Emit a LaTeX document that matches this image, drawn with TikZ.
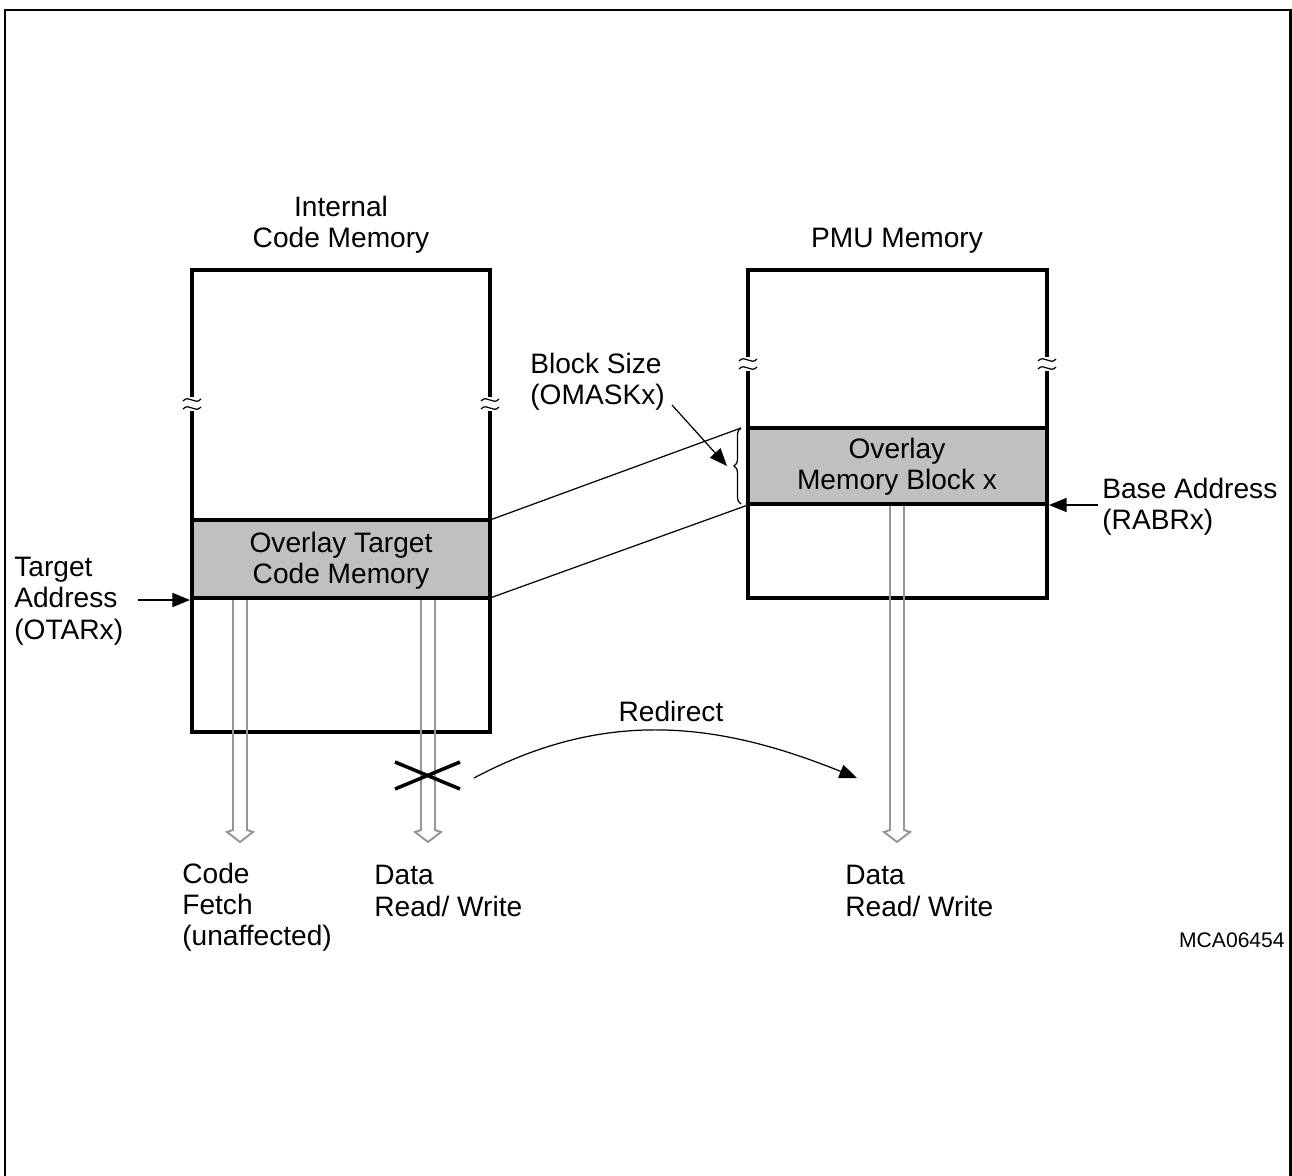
\documentclass[tikz,border=0pt]{standalone}
\usepackage{fontspec}
\setmainfont{Liberation Sans}
\usetikzlibrary{arrows.meta,decorations.pathreplacing}
\definecolor{bandgray}{RGB}{192,192,192}
\definecolor{shaftgray}{RGB}{150,150,150}
\tikzset{
  membox/.style={line width=2.4pt},
  thinline/.style={line width=0.7pt},
  hollow/.style={shaftgray,line width=1.1pt,line join=miter},
  lbl/.style={inner sep=0pt,align=left,anchor=west,font=\fontsize{16}{17.8}\selectfont},
  ctr/.style={inner sep=0pt,align=center,font=\fontsize{16}{17.8}\selectfont},
}
% break mark on a vertical box edge
\newcommand\brk[2]{%
  \fill[white] (#1-9,#2-7) rectangle (#1+9,#2+7);
  \draw[line width=0.7pt] (#1-9,#2-3) .. controls (#1-3,#2-10) and (#1+3,#2+2) .. (#1+9,#2-5);
  \draw[line width=0.7pt] (#1-9,#2+5) .. controls (#1-3,#2-2) and (#1+3,#2+10) .. (#1+9,#2+3);}
% hollow arrow from (x,top) down to (x,tip)
\newcommand\hollowarrow[3]{%
  \draw[hollow] (#1-7,#2) -- (#1-7,#3-12) -- (#1-13,#3-10) -- (#1,#3) -- (#1+13,#3-10) -- (#1+7,#3-12) -- (#1+7,#2);}
\begin{document}
\begin{tikzpicture}[x=0.02cm,y=-0.02cm,>={Triangle[length=10pt,width=8pt]}]
\useasboundingbox (0,0) rectangle (1292,1176);
\draw[line width=1.7pt] (5,1180) -- (5,10) -- (1290,10) -- (1290,1180);
% internal code memory
\fill[bandgray] (192,520) rectangle (490,598);
\draw[membox] (192,270) rectangle (490,732);
\draw[membox] (192,520) -- (490,520) (192,598) -- (490,598);
\brk{192}{404} \brk{490}{404}
\node[ctr] (icmtitle) at (341,225) {Internal\\Code Memory};
\node[ctr] (otcm) at (341,561) {Overlay Target\\Code Memory};
% PMU memory
\fill[bandgray] (748,428) rectangle (1047,504);
\draw[membox] (748,270) rectangle (1047,598);
\draw[membox] (748,428) -- (1047,428) (748,504) -- (1047,504);
\brk{748}{364} \brk{1047}{364}
\node[ctr] (pmutitle) at (897,241) {PMU Memory};
\node[ctr] (omb) at (897,467) {Overlay\\Memory Block x};
% mapping lines and brace
\coordinate (otcmtop) at (490,520);
\coordinate (otcmbot) at (490,598);
\coordinate (ombtop) at (741,428);
\coordinate (ombbot) at (748,505);
\draw[thinline] (otcmtop) -- (ombtop);
\draw[thinline] (otcmbot) -- (ombbot);
\draw[thinline,decorate,decoration={brace,amplitude=4pt}] (741,504) -- (741,428)
  coordinate[pos=0.5,xshift=-8] (bracetip);
\node[lbl] (blocksize) at (530,382) {Block Size\\(OMASKx)};
\draw[thinline,->] (672,405) -- (bracetip);
% address labels
\node[lbl] (target) at (14,601) {Target\\Address\\(OTARx)};
\coordinate (targetend) at (190,600);
\draw[thinline,->] (138,600) -- (targetend);
\node[lbl] (base) at (1102,507) {Base Address\\(RABRx)};
\coordinate (baseend) at (1049,505);
\draw[thinline,->] (1098,505) -- (baseend);
% accesses
\hollowarrow{240}{600}{842}
\hollowarrow{428}{600}{842}
\hollowarrow{897}{506}{842}
\node[lbl] (fetch) at (182,907) {Code\\Fetch\\(unaffected)};
\node[lbl] (datal) at (374,891) {Data\\Read/ Write};
\node[lbl] (datar) at (845,891) {Data\\Read/ Write};
% blocked access and redirect
\draw[line width=2pt] (395,762) -- (460,789) (395,789) -- (460,762);
\coordinate (redfrom) at (474,778);
\coordinate (redto) at (857,778);
\draw[thinline,->] (redfrom) to[out=28,in=158] (redto);
\node[ctr] (redirect) at (671,711) {Redirect};
\node[inner sep=0pt,anchor=east,font=\fontsize{12}{14}\selectfont] (figid) at (1285,940) {MCA06454};
\end{tikzpicture}
\end{document}
